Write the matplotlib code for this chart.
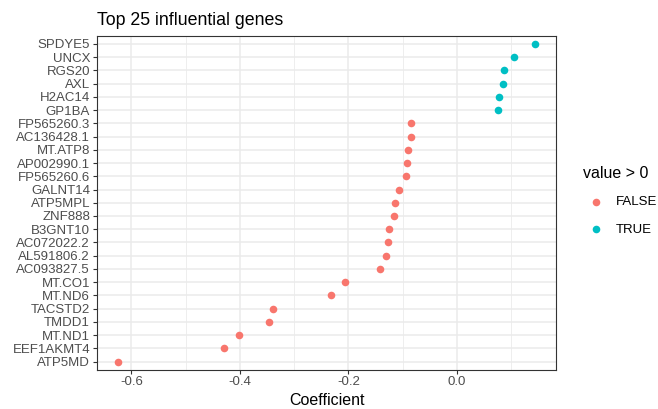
import matplotlib.pyplot as plt
import numpy as np

plt.rcParams['font.family'] = ['Liberation Sans', 'DejaVu Sans']

# genes listed top to bottom as in the chart
genes = ["SPDYE5", "UNCX", "RGS20", "AXL", "H2AC14", "GP1BA", "FP565260.3",
         "AC136428.1", "MT.ATP8", "AP002990.1", "FP565260.6", "GALNT14",
         "ATP5MPL", "ZNF888", "B3GNT10", "AC072022.2", "AL591806.2",
         "AC093827.5", "MT.CO1", "MT.ND6", "TACSTD2", "TMDD1", "MT.ND1",
         "EEF1AKMT4", "ATP5MD"]
coef = [0.144, 0.105, 0.087, 0.084, 0.077, 0.076, -0.084,
        -0.085, -0.091, -0.093, -0.094, -0.107,
        -0.114, -0.117, -0.125, -0.128, -0.130,
        -0.141, -0.206, -0.233, -0.339, -0.347, -0.401,
        -0.430, -0.625]

genes = genes[::-1]
coef = np.array(coef[::-1])
ypos = np.arange(len(genes))
pos = coef > 0

red = "#F8766D"
teal = "#00BFC4"

fig = plt.figure(figsize=(6.58, 4.09), dpi=100)
ax = fig.add_axes([97 / 658, (409 - 369.5) / 409, 459 / 658, 333.5 / 409])

ax.scatter(coef[~pos], ypos[~pos], s=30, color=red, label="FALSE", zorder=3, linewidths=0)
ax.scatter(coef[pos], ypos[pos], s=30, color=teal, label="TRUE", zorder=3, linewidths=0)

lo, hi = coef.min(), coef.max()
pad = (hi - lo) * 0.05
ax.set_xlim(lo - pad, hi + pad)
ax.set_ylim(-0.6, len(genes) - 0.4)
ax.set_yticks(ypos)
ax.set_yticklabels(genes)
ax.set_xticks([-0.6, -0.4, -0.2, 0.0])
ax.set_xticklabels(["-0.6", "-0.4", "-0.2", "0.0"])
ax.set_xticks([-0.5, -0.3, -0.1, 0.1], minor=True)

ax.grid(True, which="major", color="#EBEBEB", linewidth=1.1, zorder=0)
ax.grid(True, which="minor", axis="x", color="#EBEBEB", linewidth=0.6, zorder=0)
ax.set_axisbelow(True)
for s in ax.spines.values():
    s.set_color("#333333")
    s.set_linewidth(0.8)
ax.tick_params(axis="both", which="major", length=3, width=0.8, color="#333333",
               labelsize=9.5, labelcolor="#4D4D4D", pad=2)
ax.tick_params(axis="both", which="minor", length=0)

ax.set_xlabel("Coefficient", fontsize=11.5, labelpad=3)
ax.set_title("Top 25 influential genes", fontsize=12.8, loc="left", pad=8)

leg = fig.legend(loc="upper left", bbox_to_anchor=(583 / 658, 1 - 166 / 409),
                 title="value > 0", frameon=False, fontsize=9.5,
                 title_fontsize=11.5, handletextpad=0.5, labelspacing=1.15,
                 borderpad=0, borderaxespad=0, markerscale=1.0)
leg._legend_box.align = "left"

fig.savefig("out.png", dpi=100)
